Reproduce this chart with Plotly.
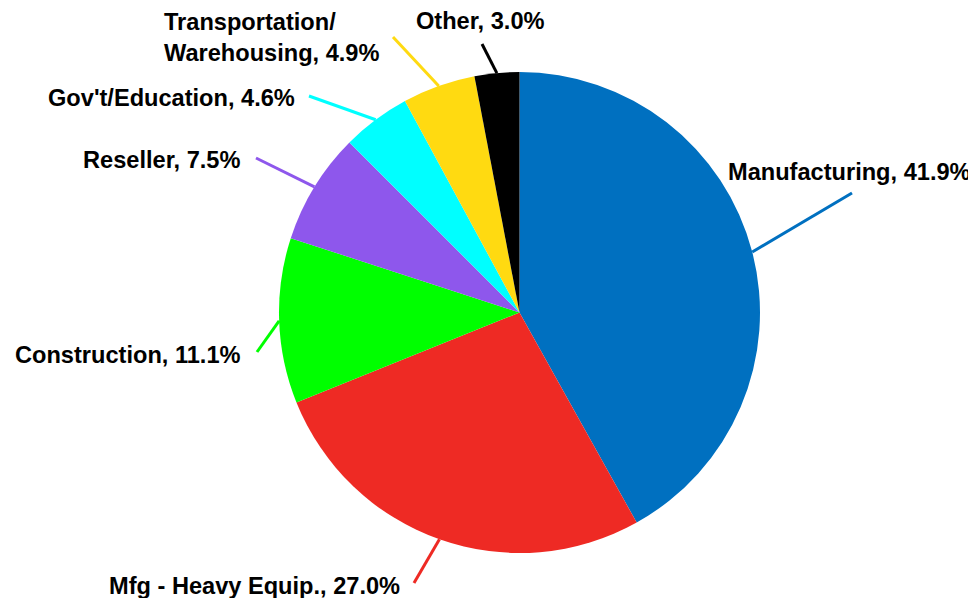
import math
import plotly.graph_objects as go

# 数据
categories = ["Manufacturing", "Mfg - Heavy Equip.", "Construction", "Reseller",
              "Gov't/Education", "Transportation/<br>Warehousing", "Other"]
shares = [41.9, 27.0, 11.1, 7.5, 4.6, 4.9, 3.0]
colors = ["#0070C0", "#EE2A24", "#00FF00", "#8E57EC", "#00FFFF", "#FFDA11", "#000000"]

# 页面 body 默认有 8px 边距，图表尺寸相应缩小
OFF = 8
W, H = 976 - OFF, 598 - OFF

# 饼图位置（窗口像素）
CX, CY, R = 519.5, 312.5, 240.5

# 标签位置：文字左端/垂直中心，以及引线终点（窗口像素）
label_pos = [(727, 172), (108, 586), (14, 355), (82, 160), (47, 98), (163, 37), (415, 21)]
line_end = [(852, 193), (414, 583), (257, 352), (256, 158), (309, 96), (393, 37), (482, 44)]


def px(x, y):
    """窗口像素 -> paper 坐标"""
    return (x - OFF) / W, 1 - (y - OFF) / H


fig = go.Figure()
dx0, dy1 = px(CX - R, CY - R)
dx1, dy0 = px(CX + R, CY + R)
fig.add_trace(go.Pie(
    labels=categories,
    values=shares,
    sort=False,
    direction="clockwise",
    rotation=0,
    marker=dict(colors=colors, line=dict(width=0)),
    textinfo="none",
    hoverinfo="label+percent",
    showlegend=False,
    domain=dict(x=[dx0, dx1], y=[dy0, dy1]),
))

total = sum(shares)
cum = 0
for i, v in enumerate(shares):
    mid = (cum + v / 2) / total * 2 * math.pi
    cum += v
    sx = CX + R * math.sin(mid)
    sy = CY - R * math.cos(mid)
    x0, y0 = px(sx, sy)
    x1, y1 = px(*line_end[i])
    fig.add_shape(type="line", xref="paper", yref="paper",
                  x0=x0, y0=y0, x1=x1, y1=y1,
                  line=dict(color=colors[i], width=3))
    lx, ly = px(*label_pos[i])
    fig.add_annotation(
        x=lx, y=ly, xref="paper", yref="paper",
        xanchor="left", yanchor="middle", align="left",
        text=f"<b>{categories[i]}, {v:.1f}%</b>",
        showarrow=False,
        font=dict(family="Liberation Sans, Arial, sans-serif", size=23.6, color="#000000"),
        borderpad=0,
    )

fig.update_layout(
    width=W, height=H,
    margin=dict(l=0, r=0, t=0, b=0),
    paper_bgcolor="white",
    plot_bgcolor="white",
)

fig.write_html("out.html")
